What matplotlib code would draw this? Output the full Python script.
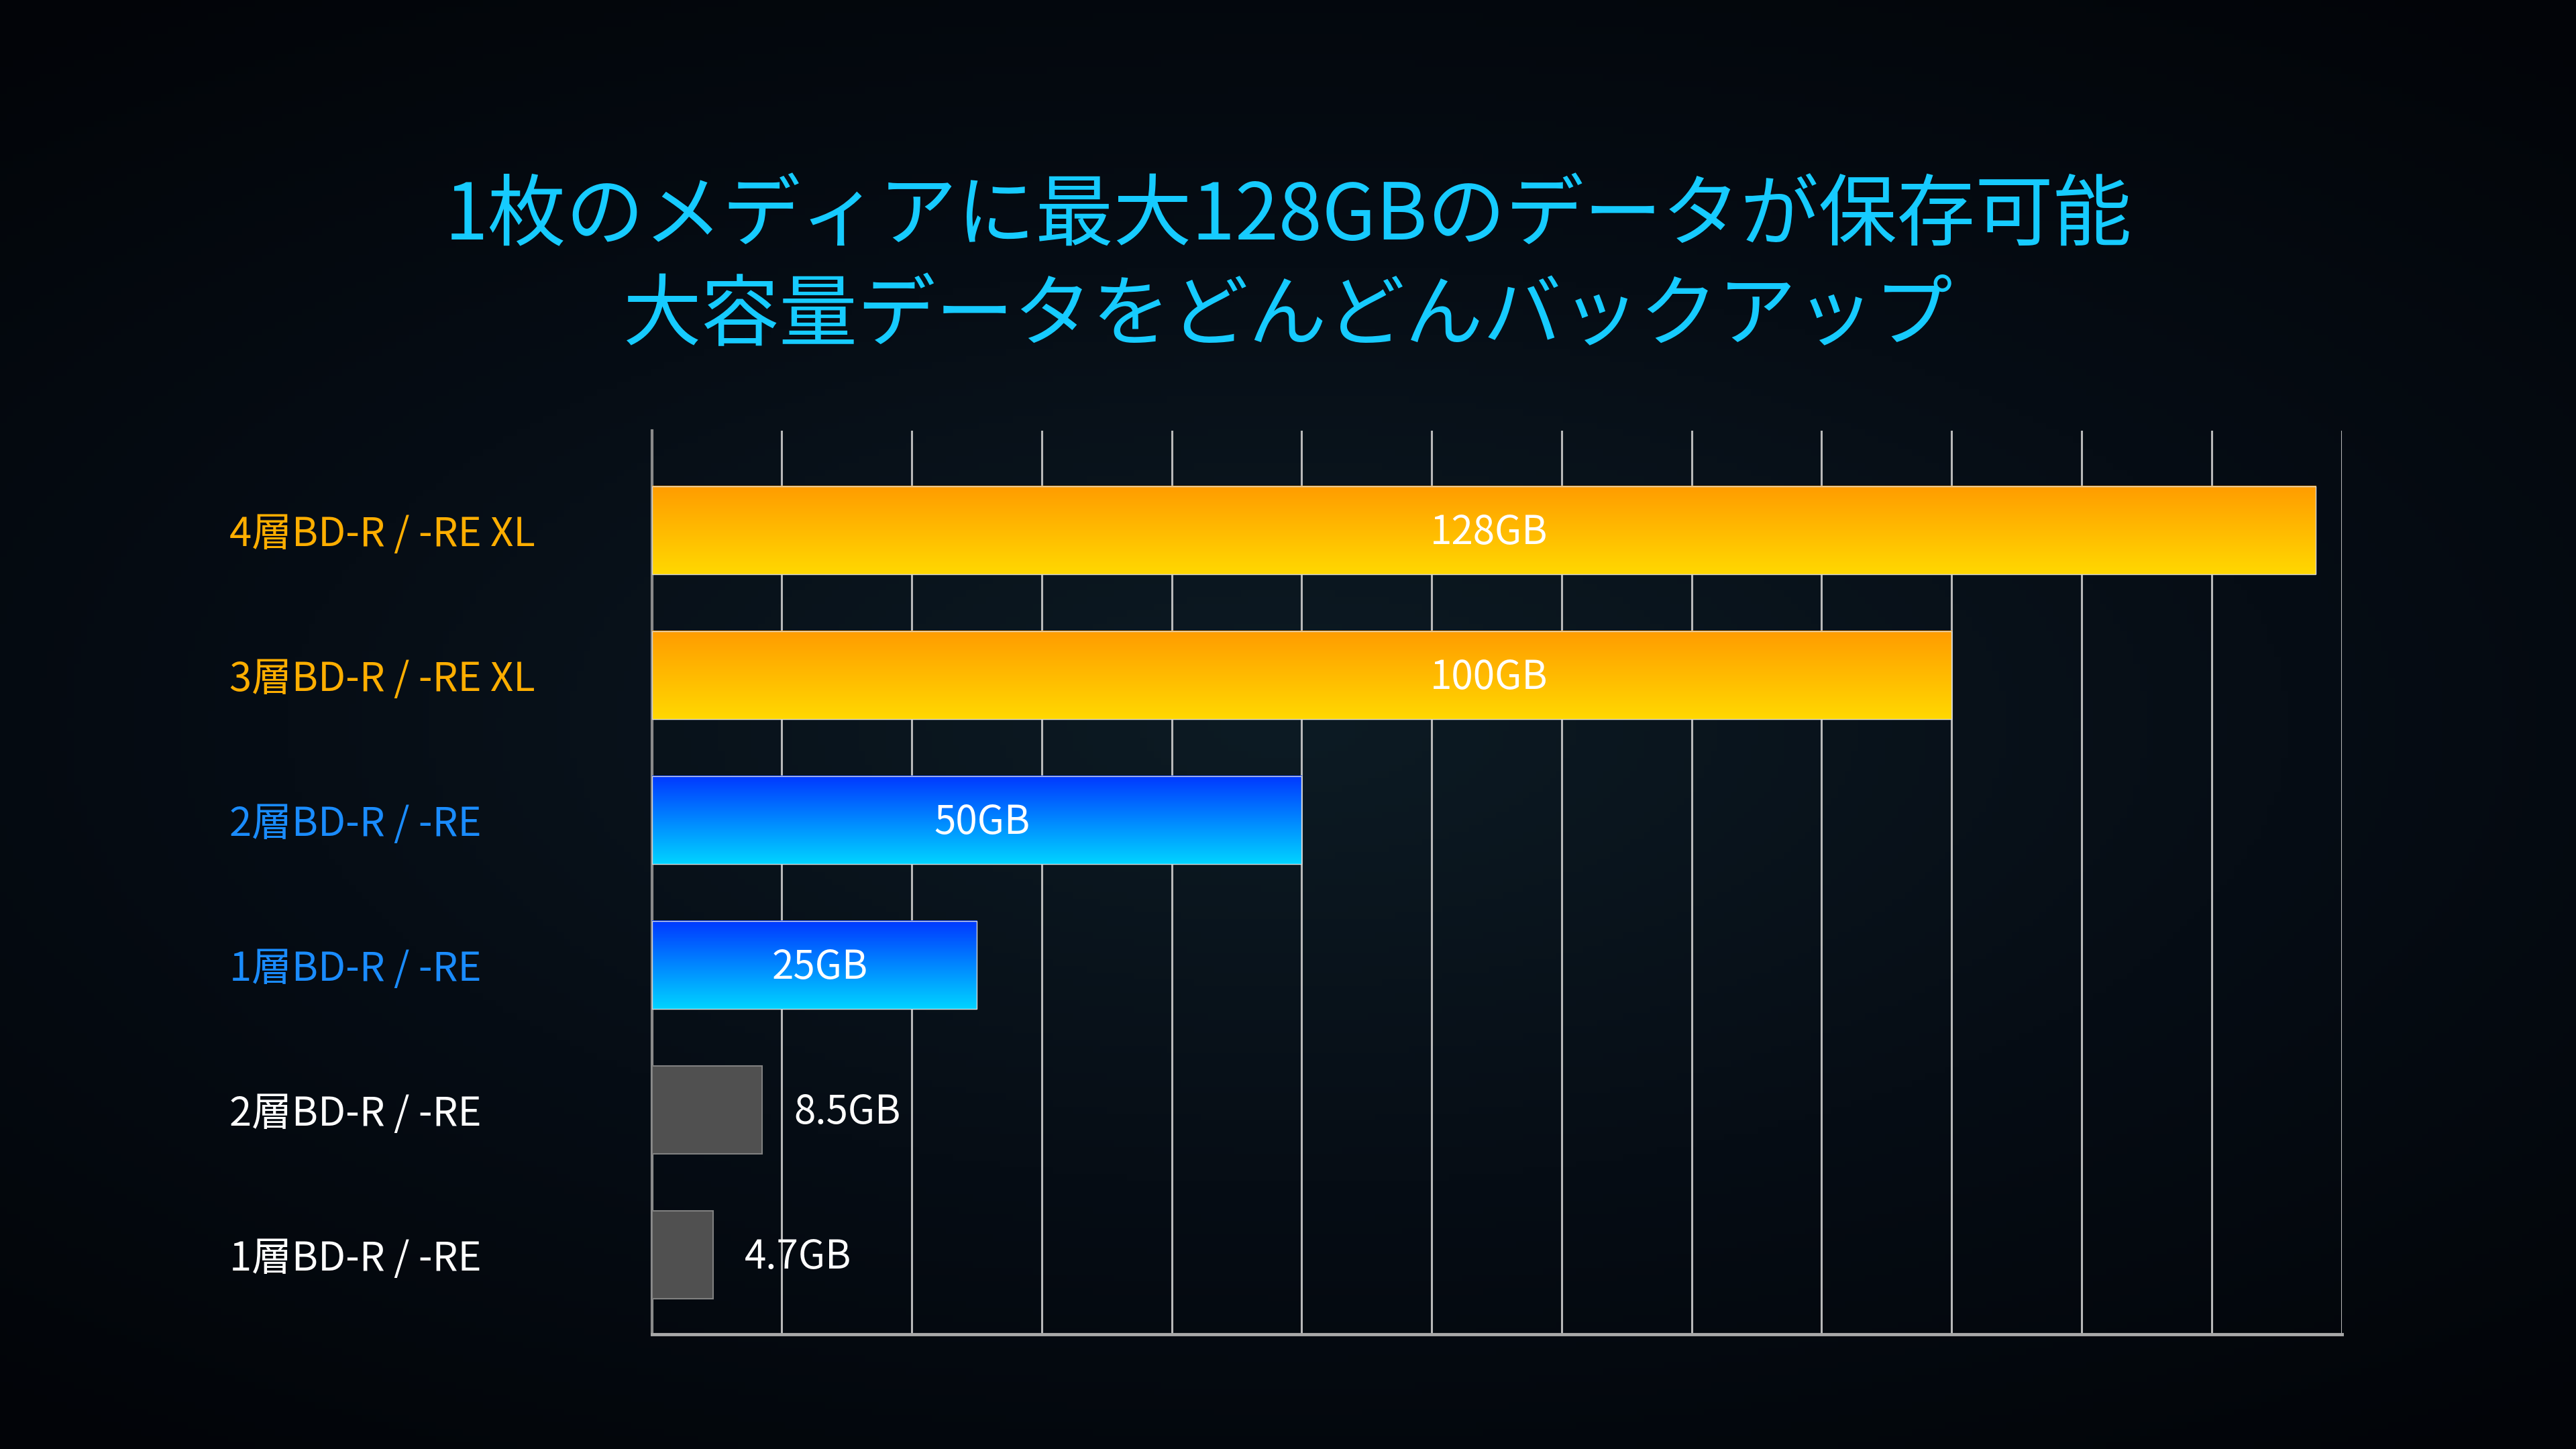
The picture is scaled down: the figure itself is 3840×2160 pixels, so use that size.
import matplotlib
matplotlib.use("Agg")
import matplotlib.pyplot as plt
import numpy as np
from matplotlib.colors import LinearSegmentedColormap

plt.rcParams['font.family'] = ['Noto Sans CJK JP', 'DejaVu Sans']

# data
media = ['4層BD-R / -RE XL', '3層BD-R / -RE XL', '2層BD-R / -RE',
         '1層BD-R / -RE', '2層BD-R / -RE', '1層BD-R / -RE']
capacity_gb = [128, 100, 50, 25, 8.5, 4.7]
value_labels = ['128GB', '100GB', '50GB', '25GB', '8.5GB', '4.7GB']
bar_style = ['gold', 'gold', 'blue', 'blue', 'gray', 'gray']
title_lines = ['1枚のメディアに最大128GBのデータが保存可能',
               '大容量データをどんどんバックアップ']

label_colors = {'gold': '#ffae00', 'blue': '#1a8cff', 'gray': '#ffffff'}
cmaps = {
    'gold': LinearSegmentedColormap.from_list('gold', ['#ff9c00', '#ffd800']),
    'blue': LinearSegmentedColormap.from_list('blue', ['#0038ff', '#00d4ff']),
}


def draw():
    fig = plt.figure(figsize=(38.4, 21.6), dpi=100)
    fig.patch.set_facecolor('#03070d')

    # dark background with a soft glow in the middle
    bg = fig.add_axes([0, 0, 1, 1], zorder=-10)
    yy, xx = np.mgrid[-1:1:216j, -1:1:384j]
    r = np.sqrt((xx * 0.9) ** 2 + (yy * 1.1) ** 2)
    glow = LinearSegmentedColormap.from_list('bg', ['#0d1b24', '#060d15', '#020408'])
    bg.imshow(r, cmap=glow, aspect='auto', extent=[0, 1, 0, 1], vmin=0, vmax=1.4)
    bg.axis('off')

    ax = fig.add_axes([0.253, 0.079, 0.656, 0.624])
    ax.patch.set_alpha(0)

    n = len(media)
    ypos = np.arange(n)[::-1]
    h = 0.61
    bars = ax.barh(ypos, capacity_gb, height=h, color='#505050',
                   edgecolor='#808080', linewidth=1.5, zorder=3)

    for bar, style in zip(bars, bar_style):
        if style == 'gray':
            continue
        bar.set_facecolor('none')
        bar.set_edgecolor('#d8d8d8')
        bar.set_linewidth(1.0)
        x0, y0 = bar.get_x(), bar.get_y()
        grad = np.linspace(0, 1, 256).reshape(-1, 1)
        ax.imshow(grad, cmap=cmaps[style], aspect='auto', origin='upper',
                  extent=[x0, x0 + bar.get_width(), y0, y0 + bar.get_height()],
                  zorder=2.9)

    ax.set_xlim(0, 130)
    ax.set_ylim(-0.55, n - 1 + 0.69)

    # value labels
    for y, v, txt, style in zip(ypos, capacity_gb, value_labels, bar_style):
        if style == 'gray':
            ax.annotate(txt, (v, y), xytext=(34, -3), textcoords='offset points',
                        ha='left', va='center', color='white', fontsize=42, zorder=5)
        else:
            xc = capacity_gb[0] / 2 if style == 'gold' else v / 2
            ax.annotate(txt, (xc, y), xytext=(6, -3), textcoords='offset points',
                        ha='center', va='center', color='white',
                        fontsize=42, zorder=5)

    # category labels, left aligned at the page margin
    ax.set_yticks(ypos)
    ax.set_yticklabels(media, fontsize=43)
    ax.tick_params(axis='y', length=0, pad=453)
    for lab, style in zip(ax.get_yticklabels(), bar_style):
        lab.set_horizontalalignment('left')
        lab.set_color(label_colors[style])

    ax.set_xticks(np.arange(0, 131, 10))
    ax.tick_params(axis='x', length=0, labelbottom=False)
    ax.grid(axis='x', color='#b8b8b8', linewidth=2.2)
    ax.set_axisbelow(True)
    for s in ['top', 'right']:
        ax.spines[s].set_visible(False)
    ax.spines['left'].set_color('#8a8a8a')
    ax.spines['left'].set_linewidth(3)
    ax.spines['bottom'].set_color('#a8a8a8')
    ax.spines['bottom'].set_linewidth(3.5)

    fig.text(0.5, 0.850, title_lines[0], ha='center', va='center',
             color='#16cbff', fontsize=84)
    fig.text(0.5, 0.781, title_lines[1], ha='center', va='center',
             color='#16cbff', fontsize=84)

    fig.savefig('out.png', dpi=100, facecolor=fig.get_facecolor())


if __name__ == '__main__':
    draw()
